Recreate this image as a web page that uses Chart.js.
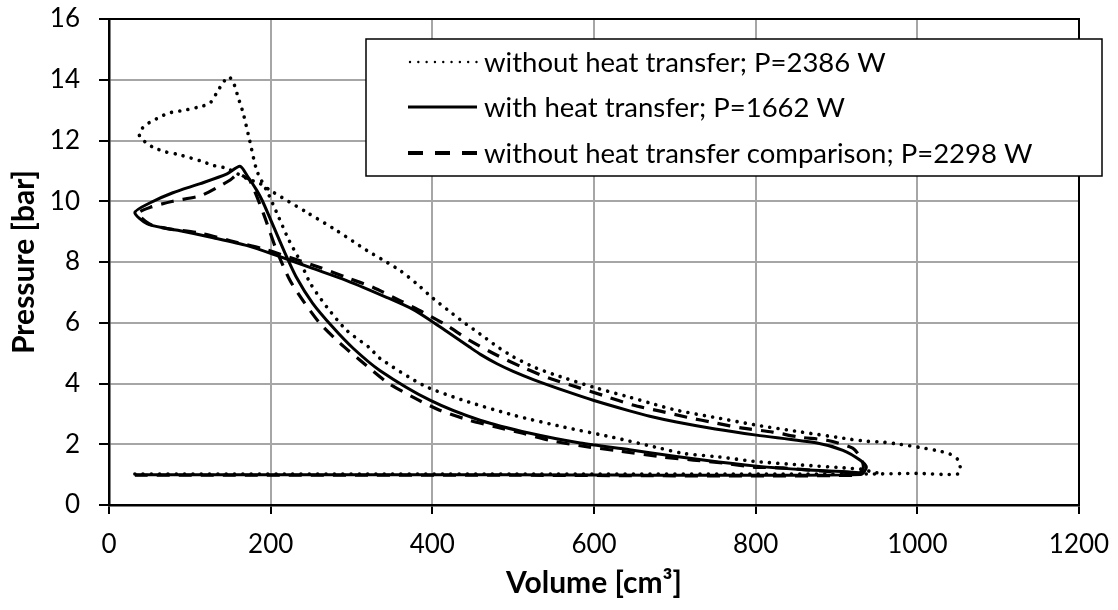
<!DOCTYPE html>
<html><head><meta charset="utf-8">
<script src="https://cdn.jsdelivr.net/npm/chart.js@4.4.1/dist/chart.umd.min.js"></script>
<style>html,body{margin:0;padding:0;background:#fff}#wrap{width:1118px;height:610px;position:relative}</style>
</head><body><div id="wrap"><canvas id="c" width="1118" height="610"></canvas></div>
<script>
// ---- data ----
const seriesLabels = [
  'without heat transfer; P=2386 W',
  'with heat transfer; P=1662 W',
  'without heat transfer comparison; P=2298 W'
];
const xTicks = [0, 200, 400, 600, 800, 1000, 1200];
const yTicks = [0, 2, 4, 6, 8, 10, 12, 14, 16];

// without heat transfer (dotted)
const volDotted = [32, 500, 940, 1000, 1050, 1053, 1050, 1040, 1028, 1009, 978, 957, 937, 916, 855, 801, 750, 702, 669, 644, 599, 566, 550, 525, 500, 480, 459, 438, 420, 401, 380, 360, 340, 319, 282, 245, 203, 187, 171, 146, 129, 113, 84, 71, 55, 45, 38, 38, 45, 53, 63, 73, 94, 115, 125, 135, 141, 148, 154, 160, 166, 174, 183, 197, 210, 222, 236, 249, 270, 294, 323, 335, 389, 438, 500, 562, 623, 680, 710, 752, 801, 855, 916, 933, 945, 960];
const presDotted = [1.02, 1.02, 1.02, 1.04, 1.02, 1.25, 1.5, 1.68, 1.77, 1.87, 2.0, 2.07, 2.1, 2.17, 2.41, 2.63, 2.88, 3.12, 3.36, 3.55, 3.88, 4.16, 4.3, 4.55, 4.88, 5.22, 5.63, 6.03, 6.4, 6.8, 7.3, 7.72, 8.05, 8.38, 9.03, 9.63, 10.3, 10.58, 10.74, 11.08, 11.18, 11.33, 11.55, 11.62, 11.77, 11.95, 12.13, 12.3, 12.5, 12.64, 12.77, 12.9, 13.0, 13.13, 13.23, 13.65, 13.9, 14.1, 13.9, 13.4, 12.9, 12.0, 11.0, 10.25, 9.47, 8.75, 8.05, 7.3, 6.5, 5.75, 5.16, 4.83, 3.94, 3.45, 2.96, 2.57, 2.23, 1.88, 1.7, 1.59, 1.43, 1.32, 1.21, 1.17, 1.08, 1.04];

// with heat transfer (solid)
const volSolid = [32, 500, 930, 937, 929, 908, 876, 801, 750, 702, 669, 644, 599, 566, 525, 500, 480, 460, 446, 418, 401, 376, 344, 294, 252, 208, 171, 129, 88, 72, 47, 32, 51, 79, 113, 146, 162, 171, 183, 190, 199, 216, 232, 252, 277, 302, 335, 397, 459, 521, 583, 644, 669, 735, 801, 860, 916, 933];
const presSolid = [1.0, 1.0, 1.0, 1.25, 1.48, 1.8, 2.04, 2.3, 2.5, 2.73, 2.92, 3.1, 3.45, 3.74, 4.13, 4.4, 4.65, 4.95, 5.2, 5.71, 6.02, 6.44, 6.83, 7.39, 7.79, 8.21, 8.54, 8.8, 9.03, 9.1, 9.26, 9.63, 9.95, 10.28, 10.58, 10.9, 11.15, 10.84, 10.35, 10.0, 9.45, 8.4, 7.49, 6.64, 5.85, 5.16, 4.43, 3.45, 2.79, 2.36, 2.04, 1.82, 1.72, 1.48, 1.28, 1.16, 1.09, 1.05];

// without heat transfer comparison (dashed)
const volDashed = [32, 500, 925, 933, 931, 920, 888, 855, 821, 784, 752, 715, 682, 648, 611, 579, 545, 512, 480, 446, 418, 389, 360, 327, 294, 261, 224, 190, 150, 113, 72, 50, 36, 51, 79, 113, 137, 150, 160, 168, 174, 191, 207, 224, 240, 261, 286, 318, 344, 376, 409, 446, 480, 512, 545, 583, 630, 685, 723, 760, 797, 834, 880, 925];
const presDashed = [0.98, 0.98, 0.98, 1.2, 1.5, 1.87, 2.13, 2.23, 2.4, 2.53, 2.69, 2.89, 3.09, 3.29, 3.61, 3.88, 4.17, 4.53, 4.93, 5.42, 5.91, 6.34, 6.73, 7.16, 7.49, 7.82, 8.15, 8.44, 8.7, 8.95, 9.1, 9.25, 9.6, 9.8, 10.0, 10.18, 10.5, 10.7, 10.9, 10.8, 10.7, 9.6, 8.4, 7.39, 6.73, 5.98, 5.32, 4.6, 4.04, 3.55, 3.12, 2.79, 2.56, 2.36, 2.13, 1.95, 1.78, 1.58, 1.48, 1.38, 1.25, 1.22, 1.12, 1.05];

const toPts = (vs, ps) => vs.map((v, i) => ({x: v, y: ps[i]}));

const FONT = 'Lato, "Open Sans", sans-serif';

const framePlugin = {
  id: 'frame',
  beforeDatasetsDraw(chart) {
    const {ctx, chartArea: a} = chart;
    ctx.save();
    ctx.strokeStyle = '#000';
    ctx.lineWidth = 2;
    ctx.beginPath();
    ctx.moveTo(a.left, a.top);
    ctx.lineTo(a.right, a.top);
    ctx.lineTo(a.right, a.bottom);
    ctx.stroke();
    ctx.restore();
  }
};

const legendPlugin = {
  id: 'boxLegend',
  afterDatasetsDraw(chart) {
    const ctx = chart.ctx;
    const x0 = 366, y0 = 39, x1 = 1102, y1 = 176;
    ctx.save();
    ctx.fillStyle = '#fff';
    ctx.fillRect(x0, y0, x1 - x0, y1 - y0);
    ctx.strokeStyle = '#000';
    ctx.lineWidth = 1.5;
    ctx.strokeRect(x0, y0, x1 - x0, y1 - y0);
    const rows = [62, 107, 153];
    chart.data.datasets.forEach((ds, i) => {
      const y = rows[i];
      ctx.save();
      ctx.strokeStyle = '#000';
      ctx.lineWidth = ds.legendWidth;
      ctx.lineCap = ds.borderCapStyle || 'butt';
      ctx.setLineDash(ds.legendDash || []);
      ctx.beginPath();
      ctx.moveTo(ds.legendX0, y);
      ctx.lineTo(477, y);
      ctx.stroke();
      ctx.restore();
      ctx.fillStyle = '#000';
      ctx.font = '27.5px ' + FONT;
      ctx.textBaseline = 'middle';
      ctx.textAlign = 'left';
      ctx.fillText(ds.label, 484, y + 1);
    });
    ctx.restore();
  }
};

const noOverflow = s => { s.paddingTop = 0; s.paddingBottom = 0; s.paddingLeft = 0; s.paddingRight = 0; };

const common = {showLine: true, pointRadius: 0, pointHoverRadius: 0, borderColor: '#000', backgroundColor: '#000', tension: 0.25, fill: false};

new Chart(document.getElementById('c'), {
  type: 'scatter',
  data: {
    datasets: [
      Object.assign({}, common, {
        label: seriesLabels[0], data: toPts(volDotted, presDotted),
        borderWidth: 3.6, borderDash: [0.01, 8.3], borderCapStyle: 'round',
        legendWidth: 2.4, legendDash: [0.01, 8.3], legendX0: 410
      }),
      Object.assign({}, common, {
        label: seriesLabels[1], data: toPts(volSolid, presSolid),
        borderWidth: 3, borderCapStyle: 'butt',
        legendWidth: 3, legendDash: [], legendX0: 408
      }),
      Object.assign({}, common, {
        label: seriesLabels[2], data: toPts(volDashed, presDashed),
        borderWidth: 3.2, borderDash: [13, 9], borderCapStyle: 'butt',
        legendWidth: 4, legendDash: [15, 12], legendX0: 408
      })
    ]
  },
  options: {
    responsive: false,
    animation: false,
    devicePixelRatio: 1,
    layout: {padding: {top: 19, right: 39, left: 0, bottom: 0}},
    plugins: {legend: {display: false}, tooltip: {enabled: false}},
    scales: {
      x: {
        type: 'linear', min: 0, max: 1200,
        afterBuildTicks: s => { s.ticks = xTicks.map(v => ({value: v})); },
        afterFit: s => { s.height = 105; noOverflow(s); },
        ticks: {color: '#000', font: {family: FONT, size: 26}, padding: 15, maxRotation: 0, callback: v => String(v)},
        grid: {color: '#a6a6a6', lineWidth: 2, tickColor: '#000', tickLength: 9, tickWidth: 2},
        border: {color: '#000', width: 2.5},
        title: {display: true, text: 'Volume [cm³]', color: '#000', font: {family: FONT, size: 30, weight: 'bold', lineHeight: 1.2}, padding: {bottom: 9, top: 0}}
      },
      y: {
        type: 'linear', min: 0, max: 16,
        afterBuildTicks: s => { s.ticks = yTicks.map(v => ({value: v})); },
        afterFit: s => { s.width = 109; noOverflow(s); },
        ticks: {color: '#000', font: {family: FONT, size: 26}, padding: 19, callback: v => String(v)},
        grid: {color: '#a6a6a6', lineWidth: 2, tickColor: '#000', tickLength: 10, tickWidth: 2},
        border: {color: '#000', width: 2.5},
        title: {display: true, text: 'Pressure [bar]', color: '#000', font: {family: FONT, size: 30, weight: 'bold', lineHeight: 1.2}, padding: {top: 6, bottom: 0}}
      }
    }
  },
  plugins: [framePlugin, legendPlugin]
});
</script>
</body></html>
